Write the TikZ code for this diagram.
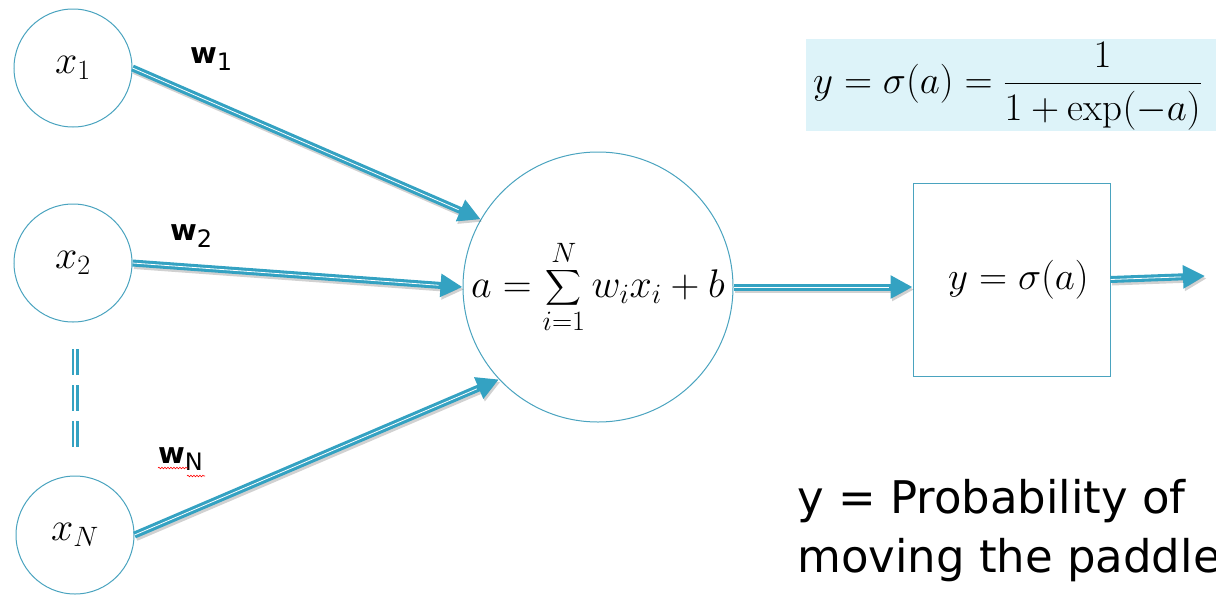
\RequirePackage{fix-cm}
\documentclass[tikz,border=0pt]{standalone}
\usepackage{exscale}
\usepackage{fontspec}
\newfontfamily\dv{DejaVu Sans}
\usetikzlibrary{arrows.meta,decorations.pathmorphing}
\definecolor{teal}{HTML}{34A2C2}
\definecolor{circ}{HTML}{4AA3BF}
\definecolor{boxfill}{HTML}{DDF3F9}
\tikzset{
  neuron/.style={circle, draw=circ, line width=1pt, minimum size=118pt, inner sep=0pt, font=\fontsize{40}{46}\selectfont},
  arrline/.style={draw=teal, line width=7pt, -{Triangle[length=22pt,width=22pt]}},
  arrshadow/.style={draw=black, opacity=0.18, line width=7pt, -{Triangle[length=22pt,width=22pt]}},
  stripe/.style={draw=white, line width=0.8pt, shorten >=24pt},
  wlabel/.style={font=\dv\bfseries\fontsize{29}{34}\selectfont, anchor=base west, inner sep=0pt},
  squiggle/.style={draw=red, line width=0.6pt, decorate, decoration={snake, amplitude=0.8pt, segment length=3pt}}
}
\newcommand{\wsub}[1]{\raisebox{-7pt}{\mdseries\fontsize{24}{28}\selectfont #1}}
\newcommand{\myarrow}[2]{%
  \draw[arrshadow] ([shift={(1.5,2.5)}]#1) -- ([shift={(1.5,2.5)}]#2);
  \draw[arrline] (#1) -- (#2);
  \draw[stripe] (#1) -- (#2);
}
\begin{document}
\begin{tikzpicture}[x=1pt,y=-1pt]
\path[use as bounding box] (0,0) rectangle (1216,595);
\clip (0,0) rectangle (1216,595);

% input neurons
\node[neuron] (x1) at (73,68) {$x_1$};
\node[neuron] (x2) at (73,263) {$x_2$};
\node[neuron] (xN) at (75,535) {$x_N$};

% summation neuron
\node[circle, draw=circ, line width=1pt, minimum size=270pt, inner sep=0pt,
      font=\fontsize{40}{46}\selectfont] (sum) at (598,287)
      {$\displaystyle a=\sum_{i=1}^{N} w_i x_i + b$};

% activation box
\node[rectangle, draw=circ, line width=1pt, minimum width=197pt, minimum height=193pt,
      inner sep=0pt, font=\fontsize{39}{46}\selectfont] (box) at (1011.5,279.5)
      {\hspace{14pt}$y=\sigma(a)$};

% sigmoid formula box
\fill[boxfill] (806,39) rectangle (1216,131);
\node[anchor=west, inner sep=0pt, font=\fontsize{39}{46}\selectfont] (sig) at (813,86)
      {$\displaystyle y=\sigma(a)=\frac{1}{1+\exp(-a)}$};

% dashes between x2 and xN
\draw[teal, line width=7pt, dash pattern=on 26pt off 10pt] (75,349) -- (75,447);
\draw[white, line width=1.2pt, dash pattern=on 26pt off 10pt] (75,349) -- (75,447);

% weight labels
\node[wlabel] (w1) at (190,63) {w\wsub{1}};
\node[wlabel] (w2) at (170,240) {w\wsub{2}};
\node[wlabel] (wN) at (158,463) {w\wsub{N}};
\draw[squiggle] (158,468) -- (188,468);
\draw[squiggle] (187,476) -- (205,476);

% arrows
\coordinate (out) at (1205,276);
\myarrow{x1.east}{sum.150}
\myarrow{x2.east}{sum.west}
\myarrow{xN.east}{sum.223}
\myarrow{sum.east}{sum.east -| box.west}
\myarrow{box.east}{out}

% probability text
\node[anchor=base west, inner sep=0pt, font=\dv\fontsize{45}{59}\selectfont] (p1) at (797,513) {y = Probability of};
\node[anchor=base west, inner sep=0pt, font=\dv\fontsize{45}{59}\selectfont] (p2) at (797,572) {moving the paddle};
\end{tikzpicture}
\end{document}
